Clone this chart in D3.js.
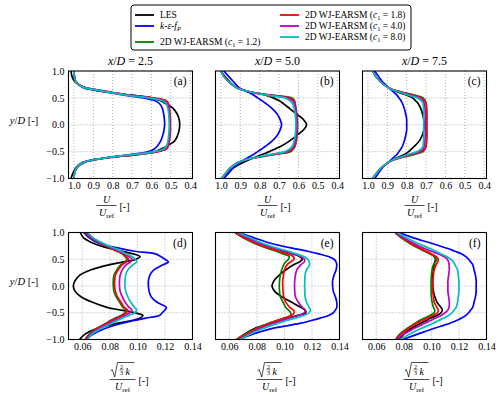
<!DOCTYPE html>
<html><head><meta charset="utf-8">
<script src="https://cdn.jsdelivr.net/npm/d3@7"></script>
<style>
body{margin:0;background:#fff}
svg{display:block}
svg text{font-family:"Liberation Serif","Times New Roman",serif;fill:#000}
</style>
</head><body>
<svg id="c" width="500" height="395" font-family="Liberation Serif, Times New Roman, serif"></svg>
<script>
// ---------------- data ----------------
const yGrid = [1.0,0.9,0.8,0.7,0.65,0.6,0.55,0.5,0.45,0.4,0.3,0.2,0.1,0.0,-0.1,-0.2,-0.3,-0.4,-0.45,-0.5,-0.55,-0.6,-0.65,-0.7,-0.8,-0.9,-1.0];
const seriesKeys = ["LES","KEF","C12","C18","C40","C80"];
const seriesColors = ["#000000","#0000ff","#008000","#ff0000","#bf00bf","#00bfbf"];
const stations = ["2.5","5.0","7.5"];
const panelLetters = ["(a)","(b)","(c)","(d)","(e)","(f)"];
const uTicks = [1.0,0.9,0.8,0.7,0.6,0.5,0.4];
const kTicks = [0.06,0.08,0.10,0.12,0.14];
const yTicks = [1.0,0.5,0.0,-0.5,-1.0];

const U25 = {
  LES:[1.015,1.01,0.995,0.955,0.90,0.81,0.70,0.60,0.555,0.53,0.487,0.467,0.457,0.454,0.457,0.465,0.48,0.522,0.55,0.58,0.66,0.79,0.90,0.955,0.99,1.005,1.015],
  KEF:[1.0,0.997,0.99,0.955,0.90,0.82,0.74,0.64,0.585,0.56,0.543,0.537,0.533,0.532,0.535,0.542,0.552,0.57,0.585,0.615,0.70,0.80,0.89,0.945,0.985,0.997,1.0],
  C12:[1.0,0.998,0.99,0.95,0.88,0.80,0.72,0.60,0.53,0.515,0.508,0.505,0.503,0.503,0.503,0.505,0.508,0.515,0.525,0.57,0.68,0.80,0.89,0.95,0.985,0.997,1.0],
  C18:[1.0,0.998,0.99,0.95,0.88,0.80,0.72,0.59,0.525,0.513,0.507,0.504,0.502,0.502,0.502,0.504,0.507,0.513,0.522,0.565,0.68,0.80,0.89,0.95,0.985,0.997,1.0],
  C40:[1.0,0.998,0.99,0.952,0.885,0.805,0.725,0.605,0.535,0.518,0.51,0.507,0.505,0.505,0.505,0.507,0.51,0.518,0.53,0.575,0.685,0.80,0.89,0.95,0.985,0.997,1.0],
  C80:[1.0,0.998,0.99,0.953,0.89,0.81,0.73,0.615,0.545,0.525,0.515,0.511,0.509,0.508,0.509,0.511,0.515,0.523,0.537,0.585,0.69,0.805,0.895,0.952,0.986,0.997,1.0]
};
const U50 = {
  LES:[1.0,0.98,0.955,0.925,0.895,0.84,0.77,0.73,0.70,0.68,0.645,0.61,0.575,0.558,0.575,0.61,0.645,0.69,0.72,0.75,0.785,0.82,0.855,0.885,0.935,0.97,0.995],
  KEF:[0.985,0.96,0.935,0.91,0.885,0.855,0.83,0.81,0.79,0.77,0.735,0.71,0.695,0.687,0.695,0.71,0.735,0.77,0.79,0.81,0.83,0.855,0.88,0.90,0.935,0.96,0.985],
  C12:[1.0,0.985,0.96,0.925,0.89,0.83,0.74,0.635,0.62,0.617,0.612,0.608,0.605,0.604,0.605,0.607,0.61,0.617,0.625,0.64,0.72,0.80,0.87,0.91,0.95,0.975,0.995],
  C18:[1.0,0.985,0.96,0.925,0.89,0.83,0.745,0.645,0.625,0.62,0.614,0.61,0.608,0.607,0.608,0.61,0.613,0.62,0.63,0.648,0.725,0.80,0.87,0.91,0.95,0.975,0.995],
  C40:[1.0,0.985,0.96,0.925,0.89,0.835,0.755,0.66,0.632,0.622,0.615,0.611,0.609,0.608,0.609,0.611,0.615,0.623,0.635,0.66,0.735,0.805,0.87,0.91,0.95,0.975,0.995],
  C80:[1.0,0.985,0.96,0.925,0.89,0.835,0.76,0.67,0.645,0.632,0.622,0.617,0.614,0.613,0.614,0.617,0.622,0.632,0.645,0.67,0.74,0.81,0.87,0.91,0.95,0.975,0.995]
};
const U75 = {
  LES:[0.975,0.96,0.935,0.90,0.875,0.84,0.80,0.77,0.755,0.742,0.727,0.718,0.712,0.71,0.712,0.72,0.735,0.76,0.775,0.79,0.81,0.84,0.87,0.895,0.93,0.955,0.975],
  KEF:[0.965,0.945,0.925,0.895,0.88,0.865,0.85,0.84,0.83,0.822,0.812,0.805,0.80,0.80,0.80,0.805,0.812,0.822,0.83,0.84,0.85,0.865,0.88,0.895,0.925,0.945,0.965],
  C12:[0.975,0.96,0.935,0.90,0.87,0.815,0.76,0.715,0.705,0.70,0.698,0.697,0.697,0.697,0.697,0.697,0.698,0.70,0.705,0.715,0.76,0.815,0.865,0.895,0.93,0.955,0.975],
  C18:[0.975,0.96,0.935,0.90,0.87,0.82,0.77,0.722,0.707,0.70,0.697,0.696,0.696,0.696,0.696,0.696,0.697,0.70,0.707,0.722,0.77,0.82,0.865,0.895,0.93,0.955,0.975],
  C40:[0.975,0.96,0.935,0.90,0.872,0.825,0.78,0.735,0.715,0.71,0.706,0.704,0.703,0.703,0.703,0.704,0.706,0.71,0.715,0.735,0.78,0.825,0.867,0.895,0.93,0.955,0.975],
  C80:[0.975,0.96,0.935,0.90,0.875,0.83,0.79,0.745,0.725,0.716,0.713,0.712,0.712,0.712,0.712,0.712,0.713,0.716,0.725,0.745,0.79,0.83,0.87,0.897,0.93,0.955,0.975]
};
const K25 = {
  LES:[0.0585,0.061,0.068,0.08,0.089,0.097,0.102,0.099,0.09,0.08,0.066,0.058,0.0548,0.0535,0.0548,0.059,0.067,0.078,0.088,0.098,0.104,0.102,0.095,0.085,0.07,0.062,0.058],
  KEF:[0.061,0.065,0.072,0.088,0.098,0.113,0.117,0.12,0.1225,0.119,0.112,0.109,0.108,0.108,0.1085,0.11,0.114,0.121,0.12,0.118,0.116,0.106,0.097,0.088,0.076,0.068,0.063],
  C12:[0.062,0.066,0.073,0.081,0.085,0.089,0.091,0.0925,0.091,0.088,0.085,0.083,0.0825,0.0825,0.083,0.0845,0.087,0.0895,0.092,0.091,0.088,0.084,0.08,0.077,0.07,0.065,0.062],
  C18:[0.0625,0.0665,0.0735,0.0815,0.0855,0.0895,0.092,0.0935,0.092,0.089,0.086,0.084,0.0835,0.0835,0.084,0.0855,0.088,0.0905,0.093,0.092,0.089,0.085,0.081,0.0775,0.0705,0.0655,0.0625],
  C40:[0.063,0.067,0.074,0.083,0.087,0.091,0.094,0.096,0.095,0.092,0.089,0.0875,0.087,0.087,0.0875,0.089,0.091,0.094,0.096,0.0945,0.091,0.087,0.083,0.079,0.072,0.066,0.063],
  C80:[0.064,0.068,0.075,0.084,0.088,0.092,0.096,0.0985,0.0995,0.097,0.093,0.0915,0.091,0.091,0.0915,0.093,0.095,0.098,0.0995,0.098,0.094,0.089,0.085,0.081,0.073,0.067,0.064]
};
const K50 = {
  LES:[0.066,0.073,0.082,0.094,0.10,0.106,0.111,0.113,0.111,0.107,0.101,0.096,0.0925,0.091,0.093,0.098,0.105,0.112,0.115,0.1155,0.11,0.102,0.096,0.09,0.078,0.071,0.066],
  KEF:[0.067,0.078,0.09,0.107,0.117,0.125,0.132,0.136,0.1375,0.138,0.1375,0.136,0.135,0.135,0.1355,0.137,0.138,0.138,0.137,0.1355,0.132,0.126,0.119,0.111,0.09,0.077,0.067],
  C12:[0.064,0.07,0.078,0.088,0.094,0.099,0.1035,0.103,0.101,0.0995,0.098,0.097,0.0965,0.0963,0.0965,0.097,0.099,0.101,0.103,0.1045,0.1045,0.1,0.094,0.088,0.079,0.071,0.065],
  C18:[0.0645,0.071,0.079,0.09,0.096,0.102,0.1065,0.107,0.1045,0.102,0.1,0.0993,0.0988,0.0988,0.099,0.0995,0.101,0.104,0.1065,0.107,0.105,0.1,0.094,0.089,0.08,0.072,0.066],
  C40:[0.066,0.073,0.082,0.094,0.101,0.107,0.112,0.1145,0.1145,0.112,0.109,0.108,0.1075,0.1074,0.1075,0.108,0.11,0.113,0.115,0.1145,0.11,0.104,0.098,0.092,0.082,0.074,0.067],
  C80:[0.067,0.075,0.084,0.096,0.103,0.109,0.114,0.117,0.118,0.1183,0.116,0.115,0.1148,0.1147,0.1148,0.115,0.116,0.118,0.119,0.118,0.114,0.108,0.101,0.095,0.084,0.075,0.068]
};
const K75 = {
  LES:[0.0745,0.079,0.085,0.092,0.096,0.0995,0.102,0.103,0.1025,0.102,0.1015,0.101,0.101,0.101,0.1015,0.1025,0.104,0.107,0.108,0.107,0.104,0.0995,0.096,0.092,0.085,0.08,0.077],
  KEF:[0.0765,0.087,0.1,0.112,0.117,0.122,0.125,0.127,0.1285,0.13,0.131,0.132,0.1325,0.1325,0.1325,0.132,0.131,0.13,0.1285,0.127,0.125,0.122,0.118,0.113,0.101,0.09,0.079],
  C12:[0.0735,0.078,0.084,0.091,0.095,0.099,0.1025,0.1035,0.103,0.1015,0.1005,0.1,0.0998,0.0998,0.0998,0.1,0.1005,0.1015,0.1025,0.102,0.099,0.095,0.091,0.088,0.082,0.077,0.074],
  C18:[0.074,0.079,0.085,0.092,0.096,0.1,0.1035,0.105,0.1045,0.1035,0.102,0.1015,0.101,0.101,0.101,0.1015,0.102,0.104,0.105,0.1045,0.101,0.097,0.093,0.089,0.083,0.078,0.0745],
  C40:[0.074,0.08,0.087,0.095,0.1,0.105,0.109,0.1115,0.1125,0.1128,0.113,0.1125,0.112,0.112,0.112,0.1125,0.113,0.1128,0.112,0.11,0.107,0.103,0.099,0.095,0.087,0.08,0.075],
  C80:[0.0753,0.082,0.09,0.099,0.103,0.107,0.111,0.114,0.116,0.117,0.119,0.1195,0.12,0.12,0.12,0.1195,0.119,0.118,0.1165,0.115,0.1125,0.109,0.105,0.101,0.092,0.084,0.077]
};

// ---------------- layout ----------------
const FONT = "'Liberation Serif','Times New Roman',serif";
const svg = d3.select("#c");
const colLeft = [68.5, 215.5, 362.5];
const topLabelShift = [-24, -10, -10];
const panelW = 124;
const rows = [
  {top:71, bottom:178.5, domain:[1.028,0.388], ticks:uTicks, fmt:d3.format(".1f"), data:[U25,U50,U75]},
  {top:232.5, bottom:339.5, domain:[0.05,0.14], ticks:kTicks, fmt:d3.format(".2f"), data:[K25,K50,K75]}
];
const minus = s => s.replace("-", "\u2212");
function txt(sel){ return sel.append("text").style("font-family",FONT); }

let li = 0;
rows.forEach((row, ri) => {
  const y = d3.scaleLinear().domain([-1,1]).range([row.bottom,row.top]);
  colLeft.forEach((x0, ci) => {
    const x = d3.scaleLinear().domain(row.domain).range([x0, x0+panelW]);
    const g = svg.append("g");
    const clipId = "clip"+ri+ci;
    g.append("clipPath").attr("id",clipId).append("rect")
      .attr("x",x0).attr("y",row.top).attr("width",panelW).attr("height",row.bottom-row.top);
    // grid
    const gx = row.ticks.filter(t => Math.abs(x(t)-x0)>2 && Math.abs(x(t)-(x0+panelW))>2);
    g.selectAll(".gx").data(gx).enter().append("line")
      .attr("x1",d=>x(d)).attr("x2",d=>x(d)).attr("y1",row.top).attr("y2",row.bottom)
      .attr("stroke","#9a9a9a").attr("stroke-width",0.8).attr("stroke-dasharray","1,2");
    g.selectAll(".gy").data([0.5,0,-0.5]).enter().append("line")
      .attr("x1",x0).attr("x2",x0+panelW).attr("y1",d=>y(d)).attr("y2",d=>y(d))
      .attr("stroke","#9a9a9a").attr("stroke-width",0.8).attr("stroke-dasharray","1,2");
    // curves
    const dat = row.data[ci];
    const line = d3.line().x(d=>x(d[0])).y(d=>y(d[1])).curve(d3.curveCatmullRom.alpha(0.5));
    const cg = g.append("g").attr("clip-path","url(#"+clipId+")");
    seriesKeys.forEach((k, si) => {
      const pts = dat[k].map((v,i)=>[v, yGrid[i]]);
      cg.append("path").attr("d", line(pts)).attr("fill","none")
        .attr("stroke", seriesColors[si]).attr("stroke-width",1.7).attr("stroke-linejoin","round");
    });
    // frame
    g.append("rect").attr("x",x0).attr("y",row.top).attr("width",panelW).attr("height",row.bottom-row.top)
      .attr("fill","none").attr("stroke","#000").attr("stroke-width",1.1);
    // x axis ticks
    const ax = g.append("g").attr("transform","translate(0,"+row.bottom+")")
      .call(d3.axisBottom(x).tickValues(row.ticks).tickFormat(row.fmt).tickSize(0).tickPadding(3.5));
    ax.attr("font-family",null);
    ax.select(".domain").remove();
    ax.selectAll("text").style("font-family",FONT).style("font-size","10px");
    // y axis labels only on first column
    if (ci===0) {
      const ay = g.append("g").attr("transform","translate("+x0+",0)")
        .call(d3.axisLeft(y).tickValues(yTicks).tickFormat(d=>minus(d3.format(".1f")(d))).tickSize(0).tickPadding(4));
      ay.attr("font-family",null);
      ay.select(".domain").remove();
      ay.selectAll("text").style("font-family",FONT).style("font-size","10px");
      const yl = txt(svg).attr("x",24).attr("y",(row.top+row.bottom)/2-1).attr("text-anchor","middle").style("font-size","10.5px");
      yl.append("tspan").style("font-style","italic").text("y");
      yl.append("tspan").text("/");
      yl.append("tspan").style("font-style","italic").text("D");
      yl.append("tspan").text(" [-]");
    }
    // panel letter
    txt(g).attr("x",x0+panelW-6).attr("y",row.top+14).attr("text-anchor","end")
      .style("font-size","11.5px").text(panelLetters[li++]);
    // titles and axis labels
    const cx = x0+panelW/2;
    if (ri===0) {
      const t = txt(svg).attr("x",cx).attr("y",65).attr("text-anchor","middle").style("font-size","12px");
      t.append("tspan").style("font-style","italic").text("x");
      t.append("tspan").text("/");
      t.append("tspan").style("font-style","italic").text("D");
      t.append("tspan").text(" = "+stations[ci]);
      const fx = cx+topLabelShift[ci];
      txt(svg).attr("x",fx).attr("y",203).attr("text-anchor","middle").style("font-size","10px").style("font-style","italic").text("U");
      svg.append("line").attr("x1",fx-10).attr("x2",fx+10).attr("y1",205.5).attr("y2",205.5).attr("stroke","#000").attr("stroke-width",0.7);
      const den = txt(svg).attr("x",fx).attr("y",215.5).attr("text-anchor","middle").style("font-size","10px");
      den.append("tspan").style("font-style","italic").text("U");
      den.append("tspan").attr("dy",2).style("font-size","7px").text("ref");
      txt(svg).attr("x",fx+13).attr("y",209.5).style("font-size","10px").text("[-]");
    } else {
      const fx = cx-8;
      const x1 = fx-12;
      svg.append("path").attr("d",`M${x1},371 L${x1+1.8},369.5 L${x1+4.2},377 L${x1+7},362.5 L${fx+12},362.5`)
        .attr("fill","none").attr("stroke","#000").attr("stroke-width",0.7);
      txt(svg).attr("x",x1+11).attr("y",368.5).attr("text-anchor","middle").style("font-size","6px").text("2");
      svg.append("line").attr("x1",x1+9).attr("x2",x1+13).attr("y1",369.8).attr("y2",369.8).attr("stroke","#000").attr("stroke-width",0.5);
      txt(svg).attr("x",x1+11).attr("y",375).attr("text-anchor","middle").style("font-size","6px").text("3");
      txt(svg).attr("x",x1+15).attr("y",375).style("font-size","10px").style("font-style","italic").text("k");
      svg.append("line").attr("x1",fx-13).attr("x2",fx+13).attr("y1",379.5).attr("y2",379.5).attr("stroke","#000").attr("stroke-width",0.7);
      const den = txt(svg).attr("x",fx).attr("y",389.5).attr("text-anchor","middle").style("font-size","10px");
      den.append("tspan").style("font-style","italic").text("U");
      den.append("tspan").attr("dy",2).style("font-size","7px").text("ref");
      txt(svg).attr("x",fx+16).attr("y",383.5).style("font-size","10px").text("[-]");
    }
  });
});

// ---------------- legend ----------------
const lg = svg.append("g");
lg.append("rect").attr("x",131).attr("y",5).attr("width",280).attr("height",45).attr("rx",3)
  .attr("fill","#fff").attr("stroke","#000").attr("stroke-width",1);
const legPos = [[135,15],[135,26],[135,42],[280,15],[280,26],[280,37]];
const legLabels = [
  [{t:"LES"}],
  [{t:"k",i:1},{t:"-"},{t:"ε",i:1},{t:"-"},{t:"f",i:1},{t:"P",i:1,sub:1}],
  [{t:"2D WJ-EARSM ("},{t:"c",i:1},{t:"1",sub:1},{t:" = 1.2)",up:1}],
  [{t:"2D WJ-EARSM ("},{t:"c",i:1},{t:"1",sub:1},{t:" = 1.8)",up:1}],
  [{t:"2D WJ-EARSM ("},{t:"c",i:1},{t:"1",sub:1},{t:" = 4.0)",up:1}],
  [{t:"2D WJ-EARSM ("},{t:"c",i:1},{t:"1",sub:1},{t:" = 8.0)",up:1}]
];
seriesKeys.forEach((k,i)=>{
  const [lx,ly] = legPos[i];
  lg.append("line").attr("x1",lx).attr("x2",lx+19).attr("y1",ly).attr("y2",ly)
    .attr("stroke",seriesColors[i]).attr("stroke-width",1.8);
  const t = txt(lg).attr("x",lx+25).attr("y",ly+3.2).style("font-size","9.5px");
  legLabels[i].forEach(p=>{
    const s = t.append("tspan").text(p.t);
    if (p.i) s.style("font-style","italic");
    if (p.sub) s.attr("dy",2).style("font-size","6.5px");
    if (p.up) s.attr("dy",-2);
  });
});
</script>
</body></html>
